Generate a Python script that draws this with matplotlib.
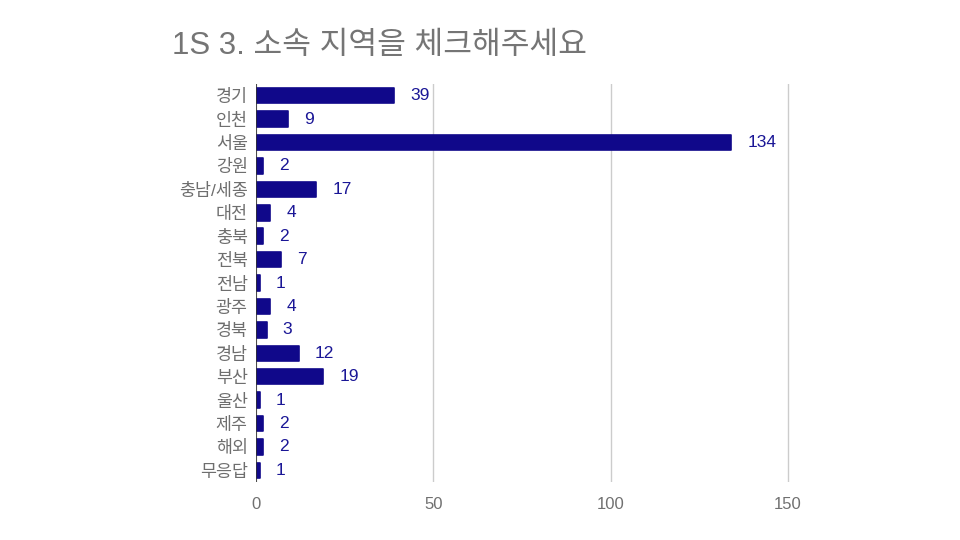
import matplotlib
matplotlib.use('Agg')
import matplotlib.pyplot as plt

plt.rcParams['font.family'] = ['Liberation Sans', 'Noto Sans CJK KR', 'DejaVu Sans']

regions = ['경기', '인천', '서울', '강원', '충남/세종', '대전', '충북', '전북', '전남',
           '광주', '경북', '경남', '부산', '울산', '제주', '해외', '무응답']
counts = [39, 9, 134, 2, 17, 4, 2, 7, 1, 4, 3, 12, 19, 1, 2, 2, 1]
xticks = [0, 50, 100, 150]

bar_color = '#10088a'
label_color = '#1a1696'

fig = plt.figure(figsize=(9.6, 5.4), dpi=100)
# x range padded a hair so the 150 grid line is not clipped
ax = fig.add_axes([0.2667, 0.1074, 0.5541 * 151 / 150, 0.737])

ypos = list(range(len(regions)))
ax.barh(ypos, counts, height=0.66, color=bar_color, edgecolor=bar_color,
        linewidth=1.2, joinstyle='round', zorder=3)
for y, v in zip(ypos, counts):
    ax.annotate(str(v), (v, y), xytext=(11.5, 0), textcoords='offset points',
                va='center', ha='left', fontsize=12.5, color=label_color)

ax.set_xlim(0, 151)
ax.set_ylim(len(regions) - 0.5, -0.5)
ax.set_yticks(ypos)
ax.set_yticklabels(regions, fontsize=12.5, color='#6e6e6e')
ax.set_xticks(xticks)
ax.set_xticklabels([str(t) for t in xticks], fontsize=12, color='#707070')
ax.tick_params(length=0, pad=6)
ax.tick_params(axis='x', pad=11)
for s in ax.spines.values():
    s.set_visible(False)
ax.grid(axis='x', color='#cccccc', lw=1, zorder=0)
ax.axvline(0, color='#333333', lw=1.2, zorder=4)

fig.text(0.179, 0.914, '1S 3. 소속 지역을 체크해주세요', fontsize=22.5,
         color='#757575', ha='left', va='center')

fig.savefig('out.png', dpi=100)
